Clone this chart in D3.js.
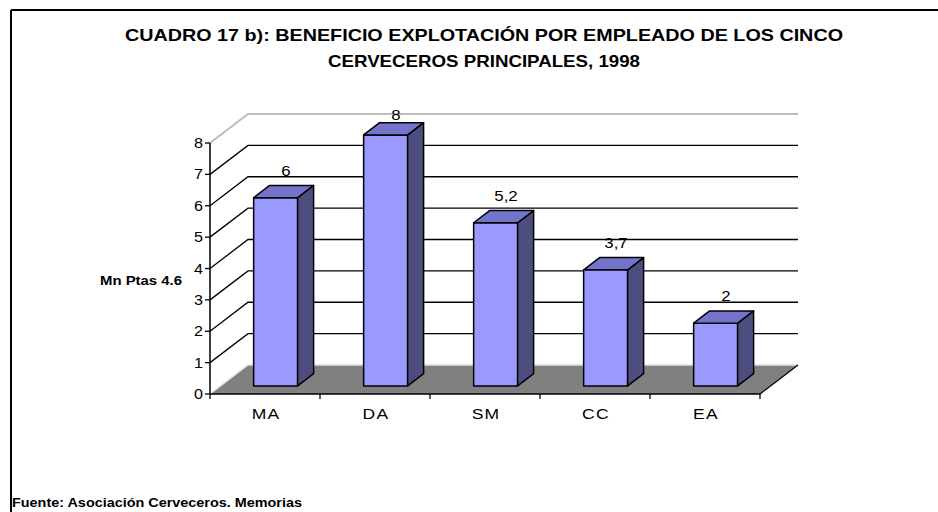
<!DOCTYPE html>
<html>
<head>
    <meta charset="utf-8">
    <title>Cuadro 17 b)</title>
    <script src="https://cdn.jsdelivr.net/npm/d3@7"></script>
    <style>
        body { margin: 0; background: #fff; }
        svg { display: block; font-family: Arial, "Liberation Sans", sans-serif; }
    </style>
</head>
<body>
<svg id="chart" width="938" height="512"></svg>

<script>
    // data
    const categories = ["MA", "DA", "SM", "CC", "EA"];
    const values = [6, 8, 5.2, 3.7, 2];
    const valueLabels = ["6", "8", "5,2", "3,7", "2"];
    const yTicks = [0, 1, 2, 3, 4, 5, 6, 7, 8];

    const titleLines = [
        "CUADRO 17 b): BENEFICIO EXPLOTACIÓN POR EMPLEADO DE LOS CINCO",
        "CERVECEROS PRINCIPALES, 1998"
    ];

    const svg = d3.select('#chart');

    // the original text is drawn wider than it is tall, so stretch it a bit
    function stretch(sel, k) {
        sel.each(function() {
            const w = this.getComputedTextLength();
            d3.select(this).attr("textLength", w * k).attr("lengthAdjust", "spacingAndGlyphs");
        });
    }

    // 3d box geometry
    const depth = {dx: 38, dy: -29};
    const barFront = 0.28, barBack = 0.70;   // bar position inside depth

    const x = d3.scaleBand()
        .domain(categories)
        .range([210, 760])
        .paddingInner(0.6)
        .paddingOuter(0.3);

    const y = d3.scaleLinear()
        .domain([0, 8])
        .range([394, 143]);

    const x0 = x.range()[0], x1 = x.range()[1];
    const step = x.step();
    const pts = arr => arr.map(p => p.join(",")).join(" ");

    // frame
    svg.append("line")
        .attr("x1", 11).attr("y1", 10).attr("x2", 938).attr("y2", 10)
        .attr("stroke", "#000").attr("stroke-width", 2);
    svg.append("line")
        .attr("x1", 11).attr("y1", 10).attr("x2", 11).attr("y2", 512)
        .attr("stroke", "#000").attr("stroke-width", 2);

    // title
    const titleWidths = [718, 312];
    svg.selectAll("text.title")
        .data(titleLines)
        .enter().append("text")
        .attr("class", "title")
        .attr("x", 484)
        .attr("y", (d, i) => 41 + i * 26)
        .attr("text-anchor", "middle")
        .attr("font-weight", "bold")
        .attr("font-size", "16.5px")
        .attr("textLength", (d, i) => titleWidths[i])
        .attr("lengthAdjust", "spacingAndGlyphs")
        .text(d => d);

    // floor
    svg.append("polygon")
        .attr("points", pts([
            [x0, y(0)], [x1, y(0)],
            [x1 + depth.dx, y(0) + depth.dy], [x0 + depth.dx, y(0) + depth.dy]
        ]))
        .attr("fill", "#808080");

    // wall edges (light)
    svg.append("polyline")
        .attr("points", pts([
            [x0, y(0)], [x0 + depth.dx, y(0) + depth.dy], [x1 + depth.dx, y(0) + depth.dy]
        ]))
        .attr("fill", "none").attr("stroke", "#e0e0e0").attr("stroke-width", 1.5);
    svg.append("polyline")
        .attr("points", pts([
            [x0, y(8)], [x0 + depth.dx, y(8) + depth.dy], [x1 + depth.dx, y(8) + depth.dy]
        ]))
        .attr("fill", "none").attr("stroke", "#bdbdbd").attr("stroke-width", 2);

    // gridlines on back wall and left wall
    const inner = yTicks.filter(v => v > 0 && v < 8);
    svg.selectAll("polyline.grid")
        .data(inner)
        .enter().append("polyline")
        .attr("class", "grid")
        .attr("points", v => pts([
            [x0, y(v)], [x0 + depth.dx, y(v) + depth.dy], [x1 + depth.dx, y(v) + depth.dy]
        ]))
        .attr("fill", "none").attr("stroke", "#000").attr("stroke-width", 1.3);

    // axes
    svg.append("line")
        .attr("x1", x0).attr("y1", y(0)).attr("x2", x0).attr("y2", y(8))
        .attr("stroke", "#000").attr("stroke-width", 1.5);
    svg.append("line")
        .attr("x1", x0).attr("y1", y(0)).attr("x2", x1).attr("y2", y(0))
        .attr("stroke", "#000").attr("stroke-width", 1.5);
    svg.append("line")
        .attr("x1", x1).attr("y1", y(0)).attr("x2", x1 + depth.dx).attr("y2", y(0) + depth.dy)
        .attr("stroke", "#000").attr("stroke-width", 1.3);

    const yAxis = svg.append("g");
    yAxis.selectAll("line")
        .data(yTicks)
        .enter().append("line")
        .attr("x1", x0 - 5).attr("x2", x0)
        .attr("y1", v => y(v)).attr("y2", v => y(v))
        .attr("stroke", "#000").attr("stroke-width", 1.3);
    yAxis.selectAll("text")
        .data(yTicks)
        .enter().append("text")
        .attr("x", x0 - 7)
        .attr("y", v => y(v))
        .attr("dy", "0.36em")
        .attr("text-anchor", "end")
        .attr("font-size", "14px")
        .text(v => v)
        .call(stretch, 1.15);

    const xAxis = svg.append("g");
    xAxis.selectAll("line")
        .data(d3.range(categories.length + 1))
        .enter().append("line")
        .attr("x1", i => x0 + i * step).attr("x2", i => x0 + i * step)
        .attr("y1", y(0)).attr("y2", y(0) + 5)
        .attr("stroke", "#000").attr("stroke-width", 1.3);
    xAxis.selectAll("text")
        .data(categories)
        .enter().append("text")
        .attr("x", d => x(d) + x.bandwidth() / 2 + 1)
        .attr("y", 419)
        .attr("text-anchor", "middle")
        .attr("font-size", "14px")
        .attr("letter-spacing", "1px")
        .text(d => d)
        .call(stretch, 1.25);

    // bars
    const fdx = depth.dx * barFront, fdy = depth.dy * barFront;
    const bdx = depth.dx * barBack, bdy = depth.dy * barBack;
    const bw = x.bandwidth();

    const bars = svg.selectAll("g.bar")
        .data(categories.map((c, i) => ({c, v: values[i], label: valueLabels[i]})))
        .enter().append("g")
        .attr("class", "bar");

    bars.append("polygon")   // front
        .attr("points", d => {
            const l = x(d.c) + fdx, r = l + bw;
            return pts([[l, y(0) + fdy], [r, y(0) + fdy], [r, y(d.v) + fdy], [l, y(d.v) + fdy]]);
        })
        .attr("fill", "#9999ff");
    bars.append("polygon")   // side
        .attr("points", d => {
            const r = x(d.c) + fdx + bw;
            return pts([[r, y(0) + fdy], [r + bdx - fdx, y(0) + bdy], [r + bdx - fdx, y(d.v) + bdy], [r, y(d.v) + fdy]]);
        })
        .attr("fill", "#4d4d80");
    bars.append("polygon")   // top
        .attr("points", d => {
            const l = x(d.c) + fdx, r = l + bw, t = y(d.v);
            return pts([[l, t + fdy], [r, t + fdy], [r + bdx - fdx, t + bdy], [l + bdx - fdx, t + bdy]]);
        })
        .attr("fill", "#7474cc");
    bars.selectAll("polygon")
        .attr("stroke", "#000").attr("stroke-width", 1.5).attr("stroke-linejoin", "round");

    // value labels, kept inside the chart area at the top
    bars.append("text")
        .attr("x", d => x(d.c) + bw / 2 + 21)
        .attr("y", d => Math.max(y(d.v) + bdy - 9.5, 120))
        .attr("text-anchor", "middle")
        .attr("font-size", "14px")
        .text(d => d.label)
        .call(stretch, 1.2);

    // y axis title
    svg.append("text")
        .attr("x", 100).attr("y", 285)
        .attr("font-weight", "bold")
        .attr("font-size", "12px")
        .attr("textLength", 82)
        .attr("lengthAdjust", "spacingAndGlyphs")
        .text("Mn Ptas 4.6");

    // source
    svg.append("text")
        .attr("x", 12).attr("y", 507)
        .attr("font-weight", "bold")
        .attr("font-size", "13px")
        .attr("textLength", 290)
        .attr("lengthAdjust", "spacingAndGlyphs")
        .text("Fuente: Asociación Cerveceros. Memorias");
</script>
</body>
</html>
